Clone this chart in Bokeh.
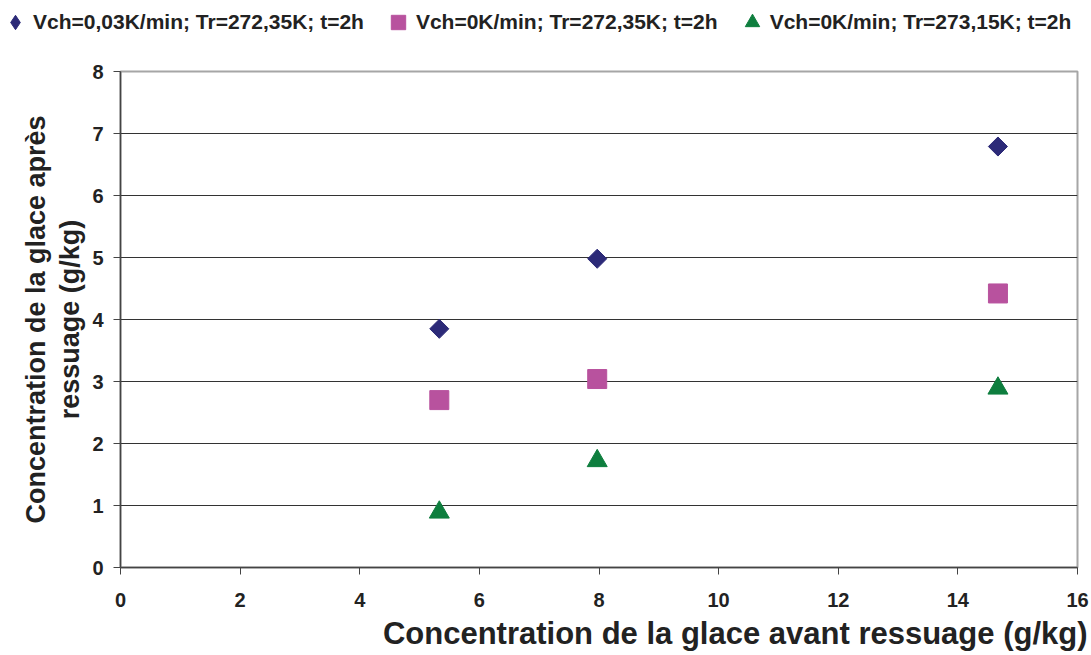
import math
from bokeh.plotting import figure
from bokeh.layouts import column
from bokeh.models import Legend, LegendItem, FixedTicker, Title, ColumnDataSource
from bokeh.embed import file_html
from bokeh.resources import INLINE

# Concentration avant ressuage (g/kg)
x_before = [5.33, 7.97, 14.67]

# Concentration après ressuage (g/kg), one list per experiment
y_vch003_tr27235 = [3.85, 4.98, 6.79]
y_vch0_tr27235 = [2.70, 3.04, 4.42]
y_vch0_tr27315 = [0.89, 1.72, 2.89]

series_labels = [
    "Vch=0,03K/min; Tr=272,35K; t=2h",
    "Vch=0K/min; Tr=272,35K; t=2h",
    "Vch=0K/min; Tr=273,15K; t=2h",
]

x_ticks = [0, 2, 4, 6, 8, 10, 12, 14, 16]
y_ticks = [0, 1, 2, 3, 4, 5, 6, 7, 8]

FONT = "Liberation Sans"
NAVY = "#2C2A78"
MAGENTA = "#B8529E"
GREEN = "#0E7E3E"
TEXT = "#222222"

src = ColumnDataSource(dict(
    x=x_before,
    a=y_vch003_tr27235,
    b=y_vch0_tr27235,
    c=y_vch0_tr27315,
))

# plot markers (the diamond is a square turned by 45 degrees)
marker_styles = [
    dict(y="a", marker="square", size=13.5, angle=math.pi / 4,
         legend_marker="diamond", fill_color=NAVY, line_color=NAVY),
    dict(y="b", marker="square", size=19, angle=0,
         legend_marker="square", fill_color=MAGENTA, line_color=MAGENTA),
    dict(y="c", marker="triangle", size=20, angle=0,
         legend_marker="triangle", fill_color=GREEN, line_color=GREEN),
]

# ---- main scatter plot ----
p = figure(
    width=1091, height=610,
    x_range=(0, 16), y_range=(0, 8),
    output_backend="svg", toolbar_location=None,
    min_border_left=120, min_border_right=14,
    min_border_top=26, min_border_bottom=88,
)
p.frame_align = False
p.background_fill_color = "white"
p.border_fill_color = "white"
p.outline_line_color = "#A6A6A6"
p.outline_line_width = 2

p.xgrid.visible = False
p.ygrid.grid_line_color = "#333333"
p.ygrid.grid_line_width = 1

p.xaxis.ticker = FixedTicker(ticks=x_ticks)
p.yaxis.ticker = FixedTicker(ticks=y_ticks)
for ax in (p.xaxis, p.yaxis):
    ax.axis_line_color = "#444444"
    ax.axis_line_width = 1.5
    ax.major_tick_line_color = "#444444"
    ax.major_tick_out = 7
    ax.major_tick_in = 0
    ax.minor_tick_line_color = None
    ax.major_label_text_font = FONT
    ax.major_label_text_font_style = "bold"
    ax.major_label_text_font_size = "20px"
    ax.major_label_text_color = TEXT
p.xaxis.major_label_standoff = 18
p.yaxis.major_label_standoff = 10

p.yaxis.axis_label = "Concentration de la glace après\nressuage (g/kg)"
p.yaxis.axis_label_text_font = FONT
p.yaxis.axis_label_text_font_style = "bold"
p.yaxis.axis_label_text_font_size = "27px"
p.yaxis.axis_label_text_line_height = 1.15
p.yaxis.axis_label_text_color = TEXT
p.yaxis.axis_label_standoff = 4

x_title = Title(
    text="Concentration de la glace avant ressuage (g/kg)",
    align="right",
    text_font=FONT, text_font_style="bold", text_font_size="31px",
    text_line_height=1.0,
    text_color=TEXT, offset=-10, standoff=8,
)
p.add_layout(x_title, "below")

for st in marker_styles:
    p.scatter("x", st["y"], source=src, marker=st["marker"], size=st["size"],
              angle=st["angle"], fill_color=st["fill_color"],
              line_color=st["line_color"])

# ---- legend strip across the top (its y range leaves the points off-frame) ----
lg = figure(
    width=1091, height=45, x_range=(0, 16), y_range=(100, 101),
    output_backend="svg", toolbar_location=None,
    min_border=0,
)
lg.frame_align = False
lg.axis.visible = False
lg.grid.visible = False
lg.outline_line_color = None
lg.background_fill_color = "white"
lg.border_fill_color = "white"

legend_items = []
for st, label in zip(marker_styles, series_labels):
    r = lg.scatter("x", st["y"], source=src,
                   marker=st["legend_marker"], size=st["size"],
                   fill_color=st["fill_color"], line_color=st["line_color"])
    legend_items.append(LegendItem(label=label, renderers=[r]))

legend = Legend(
    items=legend_items,
    orientation="horizontal",
    location=(-3, 5),
    glyph_width=36, glyph_height=36,
    label_standoff=0,
    spacing=16,
    padding=0, margin=0,
    border_line_color=None,
    background_fill_alpha=0,
    label_text_font=FONT,
    label_text_font_style="bold",
    label_text_font_size="21px",
    label_text_color=TEXT,
)
lg.add_layout(legend, "center")

layout = column(lg, p, spacing=0)
open("out.html", "w").write(file_html(layout, INLINE))
